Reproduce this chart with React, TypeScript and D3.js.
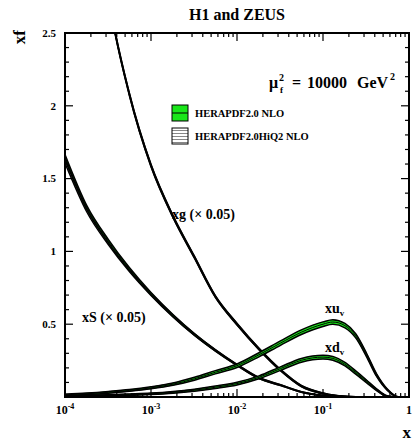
import React, { useRef, useEffect } from 'react';
import * as d3 from 'd3';

// x grid shared by all curves
const xGrid = [1e-4, 1.8e-4, 3.2e-4, 5.6e-4, 1e-3, 1.8e-3, 3.2e-3, 5.6e-3, 0.01, 0.018, 0.032, 0.056, 0.1, 0.13, 0.18, 0.24, 0.32, 0.42, 0.56, 0.75, 1];

// HERAPDF2.0 NLO central values and half-widths
const xuvNLO = [0.015, 0.022, 0.032, 0.045, 0.063, 0.088, 0.125, 0.17, 0.215, 0.29, 0.37, 0.445, 0.50, 0.515, 0.49, 0.42, 0.29, 0.15, 0.05, 0, 0];
const xuvErr = [0.004, 0.005, 0.006, 0.006, 0.007, 0.008, 0.01, 0.011, 0.012, 0.014, 0.015, 0.016, 0.016, 0.016, 0.015, 0.014, 0.012, 0.009, 0.005, 0.002, 0];
const xdvNLO = [0.007, 0.009, 0.012, 0.016, 0.022, 0.032, 0.047, 0.067, 0.092, 0.135, 0.195, 0.252, 0.274, 0.265, 0.225, 0.168, 0.108, 0.05, 0.005, 0, 0];
const xdvErr = [0.003, 0.004, 0.004, 0.005, 0.005, 0.006, 0.007, 0.008, 0.009, 0.01, 0.012, 0.013, 0.013, 0.013, 0.012, 0.011, 0.009, 0.006, 0.003, 0, 0];
const xSNLO = [1.65, 1.30, 1.07, 0.88, 0.71, 0.56, 0.43, 0.32, 0.22, 0.13, 0.082, 0.035, 0.01, 0.004, 0.001, 0, 0, 0, 0, 0, 0];
const xSErr = [0.016, 0.013, 0.011, 0.009, 0.008, 0.007, 0.006, 0.005, 0.004, 0.004, 0.003, 0.002, 0.001, 0.001, 0, 0, 0, 0, 0, 0, 0];
const xgNLO = [5.6, 3.9, 2.75, 2.08, 1.59, 1.24, 0.96, 0.69, 0.50, 0.33, 0.185, 0.075, 0.025, 0.012, 0.004, 0.001, 0, 0, 0, 0, 0];
const xgErr = [0.009, 0.009, 0.009, 0.008, 0.008, 0.007, 0.007, 0.006, 0.006, 0.005, 0.005, 0.004, 0.003, 0.002, 0.001, 0, 0, 0, 0, 0, 0];

// HERAPDF2.0HiQ2 NLO
const xuvHiQ2 = [0.015, 0.022, 0.032, 0.045, 0.063, 0.088, 0.125, 0.17, 0.215, 0.29, 0.37, 0.445, 0.50, 0.515, 0.49, 0.42, 0.29, 0.15, 0.05, 0, 0];
const xuvHiQ2Err = [0.002, 0.002, 0.003, 0.003, 0.003, 0.004, 0.004, 0.005, 0.005, 0.006, 0.006, 0.006, 0.006, 0.006, 0.006, 0.006, 0.005, 0.004, 0.002, 0.001, 0];
const xdvHiQ2 = [0.007, 0.009, 0.012, 0.016, 0.022, 0.032, 0.047, 0.067, 0.092, 0.135, 0.195, 0.252, 0.274, 0.265, 0.225, 0.168, 0.108, 0.05, 0.005, 0, 0];
const xdvHiQ2Err = [0.002, 0.002, 0.002, 0.002, 0.002, 0.003, 0.003, 0.003, 0.004, 0.004, 0.005, 0.005, 0.005, 0.005, 0.005, 0.004, 0.004, 0.003, 0.001, 0, 0];
const xSHiQ2 = [1.62, 1.28, 1.055, 0.87, 0.705, 0.556, 0.428, 0.32, 0.22, 0.13, 0.082, 0.035, 0.01, 0.004, 0.001, 0, 0, 0, 0, 0, 0];
const xSHiQ2Err = [0.013, 0.011, 0.009, 0.008, 0.007, 0.006, 0.005, 0.004, 0.003, 0.003, 0.002, 0.002, 0.001, 0.001, 0, 0, 0, 0, 0, 0, 0];
const xgHiQ2 = [5.6, 3.9, 2.75, 2.08, 1.59, 1.24, 0.96, 0.69, 0.50, 0.33, 0.185, 0.075, 0.025, 0.012, 0.004, 0.001, 0, 0, 0, 0, 0];
const xgHiQ2Err = [0.006, 0.006, 0.006, 0.006, 0.005, 0.005, 0.005, 0.004, 0.004, 0.004, 0.003, 0.003, 0.002, 0.001, 0.001, 0, 0, 0, 0, 0, 0];

// ticks
const xMajorTicks = [1e-4, 1e-3, 1e-2, 1e-1, 1];
const xTickExponents = ['-4', '-3', '-2', '-1', ''];
const yMajorTicks = [0.5, 1, 1.5, 2, 2.5];
const yTickLabels = ['0.5', '1', '1.5', '2', '2.5'];

const legendLabels = ['HERAPDF2.0 NLO', 'HERAPDF2.0HiQ2 NLO'];

const GREEN = '#19e619';
const FONT = '"Liberation Serif", "DejaVu Serif", serif';

const App = () => {
    const ref = useRef<SVGSVGElement>(null);

    useEffect(() => {
        document.body.style.margin = '0';
        const svg = d3.select(ref.current);
        svg.selectAll('*').remove();

        const W = 413, H = 441;
        const plot = { left: 65, right: 409, top: 33, bottom: 397 };

        const x = d3.scaleLog().domain([1e-4, 1]).range([plot.left, plot.right]);
        const y = d3.scaleLinear().domain([0, 2.5]).range([plot.bottom, plot.top]);

        const defs = svg.append('defs');
        defs.append('clipPath').attr('id', 'plot-clip')
            .append('rect')
            .attr('x', plot.left).attr('y', plot.top)
            .attr('width', plot.right - plot.left).attr('height', plot.bottom - plot.top);
        const hatch = defs.append('pattern')
            .attr('id', 'hatch')
            .attr('patternUnits', 'userSpaceOnUse')
            .attr('width', 4).attr('height', 3);
        hatch.append('rect').attr('width', 4).attr('height', 3).attr('fill', '#fff');
        hatch.append('line').attr('x1', 0).attr('x2', 4).attr('y1', 1.5).attr('y2', 1.5)
            .attr('stroke', '#555').attr('stroke-width', 0.7);

        svg.append('rect').attr('width', W).attr('height', H).attr('fill', '#fff');

        const g = svg.append('g').attr('clip-path', 'url(#plot-clip)');

        const band = (central: number[], err: number[], fill: string, withCentral: boolean) => {
            const idx = d3.range(xGrid.length);
            const area = d3.area<number>()
                .x(i => x(xGrid[i]))
                .y0(i => y(Math.max(0, central[i] - err[i])))
                .y1(i => y(central[i] + err[i]))
                .curve(d3.curveMonotoneX);
            const lo = d3.line<number>()
                .x(i => x(xGrid[i]))
                .y(i => y(Math.max(0, central[i] - err[i])))
                .curve(d3.curveMonotoneX);
            const hi = d3.line<number>()
                .x(i => x(xGrid[i]))
                .y(i => y(central[i] + err[i]))
                .curve(d3.curveMonotoneX);
            g.append('path').datum(idx).attr('d', area).attr('fill', fill);
            g.append('path').datum(idx).attr('d', lo).attr('fill', 'none').attr('stroke', '#000').attr('stroke-width', 1.5);
            g.append('path').datum(idx).attr('d', hi).attr('fill', 'none').attr('stroke', '#000').attr('stroke-width', 1.5);
            if (withCentral) {
                const mid = d3.line<number>()
                    .x(i => x(xGrid[i]))
                    .y(i => y(central[i]))
                    .curve(d3.curveMonotoneX);
                g.append('path').datum(idx).attr('d', mid).attr('fill', 'none').attr('stroke', '#000').attr('stroke-width', 1);
            }
        };

        // HiQ2 hatched bands underneath, NLO green bands on top
        band(xSHiQ2, xSHiQ2Err, 'url(#hatch)', false);
        band(xgHiQ2, xgHiQ2Err, 'url(#hatch)', false);
        band(xdvHiQ2, xdvHiQ2Err, 'url(#hatch)', false);
        band(xuvHiQ2, xuvHiQ2Err, 'url(#hatch)', false);
        band(xSNLO, xSErr, GREEN, true);
        band(xgNLO, xgErr, GREEN, true);
        band(xdvNLO, xdvErr, GREEN, true);
        band(xuvNLO, xuvErr, GREEN, true);

        // --- Frame and ticks ---
        const axes = svg.append('g').attr('stroke', '#000');
        const minorX: number[] = [];
        for (let e = -4; e < 0; e++) for (let m = 2; m <= 9; m++) minorX.push(m * Math.pow(10, e));
        const tick = (x1: number, y1: number, x2: number, y2: number) =>
            axes.append('line').attr('x1', x1).attr('y1', y1).attr('x2', x2).attr('y2', y2).attr('stroke-width', 1.2);
        xMajorTicks.forEach(t => { tick(x(t), plot.bottom, x(t), plot.bottom - 8); tick(x(t), plot.top, x(t), plot.top + 8); });
        minorX.forEach(t => { tick(x(t), plot.bottom, x(t), plot.bottom - 4); tick(x(t), plot.top, x(t), plot.top + 4); });
        d3.range(1, 25).map(v => v / 10).forEach(v => {
            const major = Math.abs(v * 2 - Math.round(v * 2)) < 1e-6;
            const len = major ? 8 : 4;
            tick(plot.left, y(v), plot.left + len, y(v));
            tick(plot.right, y(v), plot.right - len, y(v));
        });
        axes.append('rect')
            .attr('x', plot.left).attr('y', plot.top)
            .attr('width', plot.right - plot.left).attr('height', plot.bottom - plot.top)
            .attr('fill', 'none').attr('stroke-width', 2);

        const text = svg.append('g').attr('font-family', FONT).attr('font-weight', 'bold').attr('fill', '#000');

        // x tick labels
        xMajorTicks.forEach((t, i) => {
            const tx = text.append('text').attr('x', x(t)).attr('y', 414).attr('text-anchor', 'middle').attr('font-size', 12);
            tx.append('tspan').text(xTickExponents[i] ? '10' : '1');
            if (xTickExponents[i]) tx.append('tspan').attr('dy', -5).attr('font-size', 8).text(xTickExponents[i]);
        });
        // y tick labels
        yMajorTicks.forEach((t, i) => {
            text.append('text').attr('x', 56).attr('y', y(t)).attr('dy', '0.35em')
                .attr('text-anchor', 'end').attr('font-size', 11).text(yTickLabels[i]);
        });

        // titles
        text.append('text').attr('x', 237).attr('y', 20).attr('text-anchor', 'middle').attr('font-size', 16).text('H1 and ZEUS');
        text.append('text').attr('transform', 'translate(25,30) rotate(-90)').attr('text-anchor', 'end').attr('font-size', 17).text('xf');
        text.append('text').attr('x', 411).attr('y', 438).attr('text-anchor', 'end').attr('font-size', 17).text('x');

        // scale label
        text.append('text').attr('x', 269).attr('y', 88).attr('font-size', 16).text('\u03bc');
        text.append('text').attr('x', 279).attr('y', 81).attr('font-size', 10).text('2');
        text.append('text').attr('x', 280).attr('y', 93).attr('font-size', 9).text('f');
        const sc = text.append('text').attr('y', 88).attr('font-size', 16);
        sc.append('tspan').attr('x', 292).text('=');
        sc.append('tspan').attr('x', 307).text('10000');
        sc.append('tspan').attr('x', 357).text('GeV');
        text.append('text').attr('x', 390).attr('y', 80).attr('font-size', 10).text('2');

        // legend
        legendLabels.forEach((lab, i) => {
            const ly = 105 + i * 23;
            const box = svg.append('g');
            box.append('rect').attr('x', 172).attr('y', ly).attr('width', 16).attr('height', 16)
                .attr('fill', i === 0 ? GREEN : 'url(#hatch)').attr('stroke', '#000').attr('stroke-width', 1);
            if (i === 0) box.append('line').attr('x1', 172).attr('x2', 188).attr('y1', ly + 8).attr('y2', ly + 8).attr('stroke', '#000').attr('stroke-width', 1);
            text.append('text').attr('x', 195).attr('y', ly + 8).attr('dy', '0.35em').attr('font-size', 10.5).text(lab);
        });

        // curve labels
        text.append('text').attr('x', 172).attr('y', 219).attr('font-size', 14).text('xg (\u00d7 0.05)');
        text.append('text').attr('x', 82).attr('y', 322).attr('font-size', 14).text('xS (\u00d7 0.05)');
        const uv = text.append('text').attr('x', 325).attr('y', 313).attr('font-size', 14);
        uv.append('tspan').text('xu');
        uv.append('tspan').attr('dy', 3).attr('font-size', 9).text('v');
        const dv = text.append('text').attr('x', 325).attr('y', 352).attr('font-size', 14);
        dv.append('tspan').text('xd');
        dv.append('tspan').attr('dy', 3).attr('font-size', 9).text('v');
    }, []);

    return <svg ref={ref} width={413} height={441} style={{ display: 'block' }}></svg>;
};

export default App;
